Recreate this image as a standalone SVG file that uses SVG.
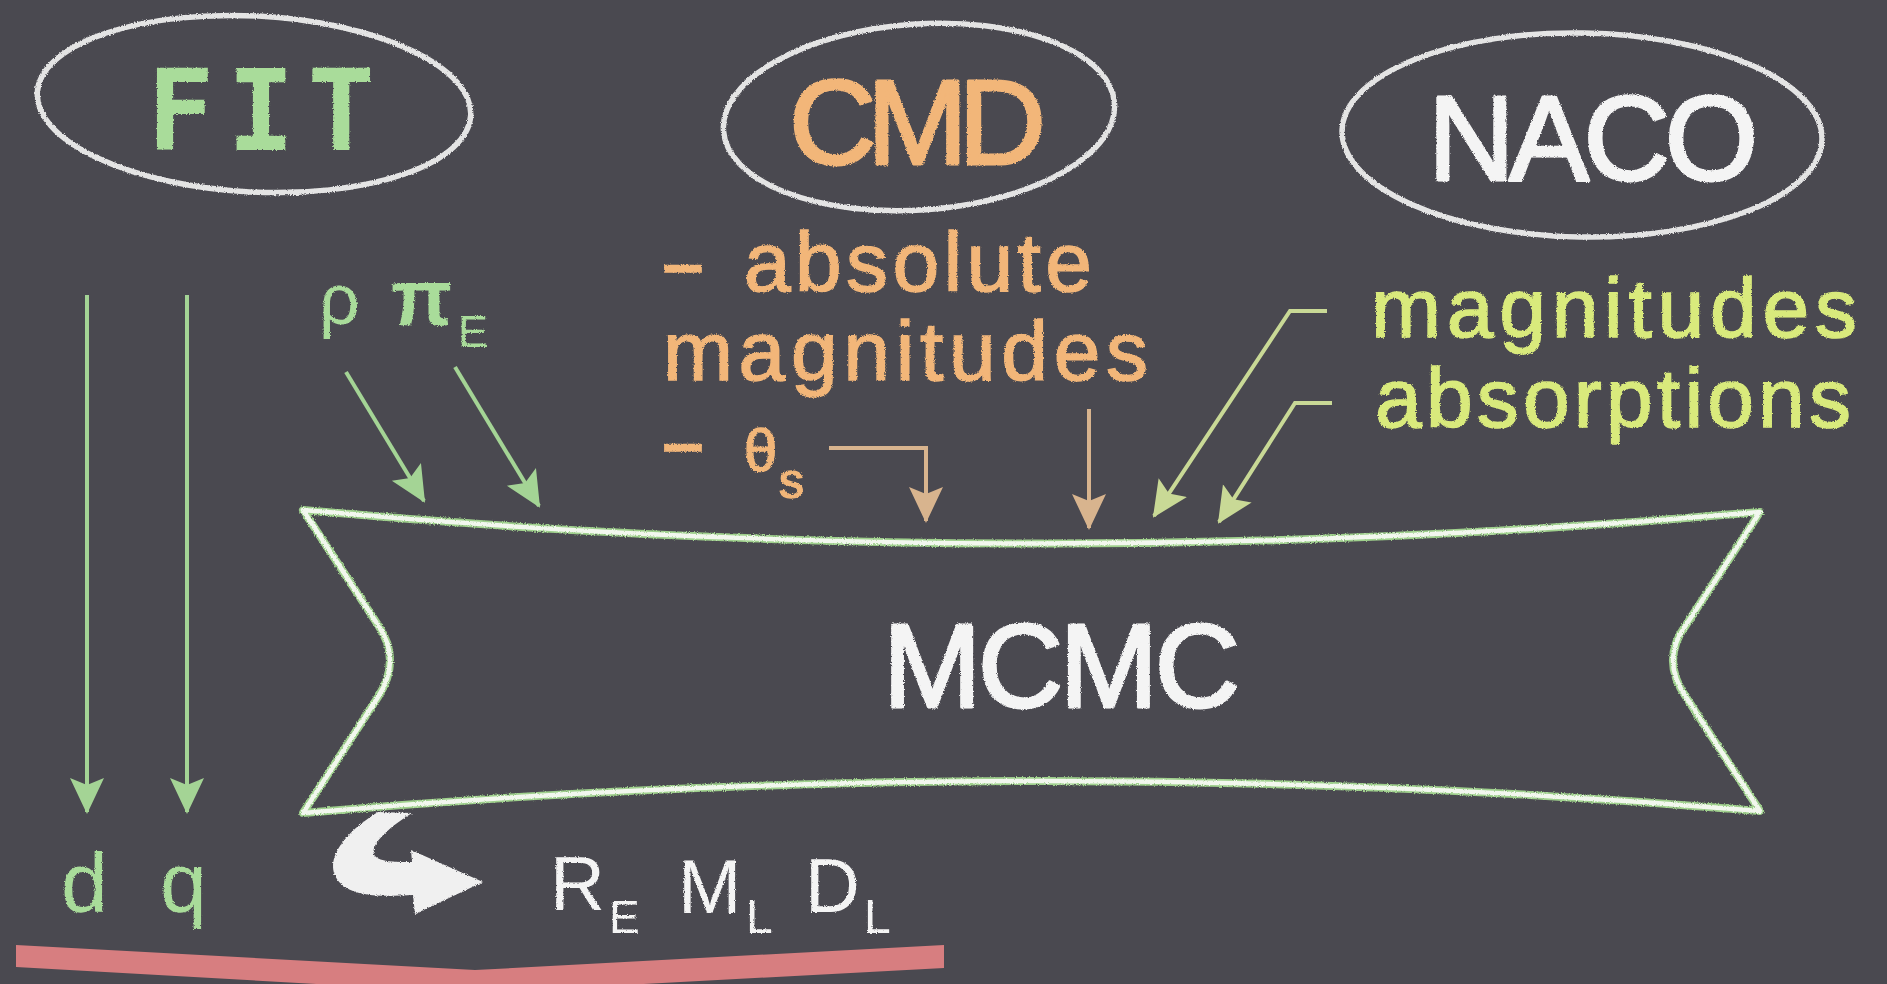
<svg xmlns="http://www.w3.org/2000/svg" width="1887" height="984" viewBox="0 0 1887 984">
<defs>
<style>
.t{font-family:"Liberation Sans","DejaVu Sans",sans-serif;}
.cap{stroke-width:3;stroke-linejoin:round;}
.oval{fill:none;stroke:#e4e4e4;stroke-width:5.5;}
.green{fill:#a9dc9a;}
.orange{fill:#f2b679;stroke:#f2b679;stroke-width:1.5;}
.lime{fill:#d9ea7c;stroke:#d9ea7c;stroke-width:1.5;}
.white{fill:#f4f4f4;}
.ga{fill:none;stroke:#a4d495;stroke-width:4;}
.ta{fill:none;stroke:#d8b48e;stroke-width:4;}
.ya{fill:none;stroke:#c9d996;stroke-width:4;}
</style>
<filter id="chalk" x="-5%" y="-5%" width="110%" height="110%">
<feTurbulence type="fractalNoise" baseFrequency="0.9" numOctaves="2" seed="4" result="n"/>
<feDisplacementMap in="SourceGraphic" in2="n" scale="3" xChannelSelector="R" yChannelSelector="G"/>
</filter>
<marker id="hg" viewBox="0 0 36 36" refX="34" refY="18" markerWidth="36" markerHeight="36" orient="auto" markerUnits="userSpaceOnUse"><path d="M0,1 L36,18 L0,35 L7,18 z" fill="#a4d495"/></marker>
<marker id="ht" viewBox="0 0 36 36" refX="34" refY="18" markerWidth="36" markerHeight="36" orient="auto" markerUnits="userSpaceOnUse"><path d="M0,1 L36,18 L0,35 L7,18 z" fill="#d8b48e"/></marker>
<marker id="hy" viewBox="0 0 36 36" refX="34" refY="18" markerWidth="36" markerHeight="36" orient="auto" markerUnits="userSpaceOnUse"><path d="M0,1 L36,18 L0,35 L7,18 z" fill="#c9d996"/></marker>
</defs>
<rect width="1887" height="984" fill="#4a4950"/>

<g id="fit" filter="url(#chalk)">
<ellipse class="oval" cx="254" cy="104" rx="217" ry="88" transform="rotate(3 254 104)"/>
<text class="green" x="147" y="150" font-family="'DejaVu Sans Mono','Liberation Mono',monospace" font-weight="700" font-size="112" textLength="228" lengthAdjust="spacing">FIT</text>
</g>

<g id="cmd" filter="url(#chalk)">
<ellipse class="oval" cx="919" cy="117" rx="196" ry="93" transform="rotate(-4 919 117)"/>
<text class="t cap" fill="#f2b679" stroke="#f2b679" x="789" y="164" font-size="121" textLength="257" lengthAdjust="spacing">CMD</text>
</g>

<g id="naco" filter="url(#chalk)">
<ellipse class="oval" cx="1582" cy="135" rx="240" ry="102" transform="rotate(1 1582 135)"/>
<text class="t cap white" stroke="#f4f4f4" x="1428" y="180" font-size="120" textLength="330" lengthAdjust="spacing">NACO</text>
</g>

<g id="cmd-notes" filter="url(#chalk)">
<text class="t orange" x="659" y="291" font-size="84"><tspan textLength="48" lengthAdjust="spacingAndGlyphs">-</tspan><tspan x="744" textLength="348" lengthAdjust="spacing">absolute</tspan></text>
<text class="t orange" x="663" y="380" font-size="84" textLength="485" lengthAdjust="spacing">magnitudes</text>
<text class="t orange" x="659" y="470" font-size="84"><tspan textLength="48" lengthAdjust="spacingAndGlyphs">-</tspan><tspan x="744" y="471" font-size="60">θ</tspan><tspan x="779" y="498" font-size="50">s</tspan></text>
</g>

<g id="naco-notes" filter="url(#chalk)">
<text class="t lime" x="1371" y="337" font-size="84" textLength="486" lengthAdjust="spacing">magnitudes</text>
<text class="t lime" x="1375" y="427" font-size="84" textLength="476" lengthAdjust="spacing">absorptions</text>
</g>

<g id="fit-params" filter="url(#chalk)">
<text class="t green" x="319" y="324" font-size="72">ρ<tspan x="391" y="325" font-size="80" font-weight="700">π</tspan><tspan x="458" y="347" font-size="45">E</tspan></text>
</g>

<g id="mcmc" filter="url(#chalk)">
<path d="M303,510 Q1030,576 1760,512 L1686,625 Q1660,660 1686,697 L1760,811 Q1030,750 303,813 L378,697 Q402,660 378,625 Z" fill="none" stroke="#9fd08d" stroke-width="8" stroke-linejoin="round"/>
<path d="M303,510 Q1030,576 1760,512 L1686,625 Q1660,660 1686,697 L1760,811 Q1030,750 303,813 L378,697 Q402,660 378,625 Z" fill="none" stroke="#f2f7ee" stroke-width="4.5" stroke-linejoin="round"/>
<text class="t cap white" stroke="#f4f4f4" x="883" y="707" font-size="118" textLength="357" lengthAdjust="spacing">MCMC</text>
</g>

<g id="fit-outputs" filter="url(#chalk)">
<text class="t green" x="61" y="912" font-size="84">d<tspan x="160">q</tspan></text>
</g>

<g id="mcmc-outputs" filter="url(#chalk)">
<text class="t white" x="550" y="910" font-size="76">R<tspan x="609" y="933" font-size="46">E</tspan><tspan x="678" y="913">M</tspan><tspan x="746" y="933" font-size="48">L</tspan><tspan x="805" y="912">D</tspan><tspan x="864" y="933" font-size="48">L</tspan></text>
</g>

<g id="baseline-bar">
<polygon points="16,945 475,970 944,945 944,968 475,993 16,967" fill="#d77e80"/>
</g>

<g id="connectors">
<line class="ga" x1="87" y1="295" x2="87" y2="812" marker-end="url(#hg)"/>
<line class="ga" x1="187" y1="295" x2="187" y2="812" marker-end="url(#hg)"/>
<line class="ga" x1="346" y1="372" x2="424" y2="501" marker-end="url(#hg)"/>
<line class="ga" x1="455" y1="367" x2="539" y2="506" marker-end="url(#hg)"/>
<polyline class="ta" points="829,448 926,448 926,521" marker-end="url(#ht)"/>
<line class="ta" x1="1089" y1="409" x2="1089" y2="528" marker-end="url(#ht)"/>
<polyline class="ya" points="1327,311 1290,311 1154,516" marker-end="url(#hy)"/>
<polyline class="ya" points="1332,403 1295,403 1219,522" stroke="#d2e38a" marker-end="url(#hy)"/>
<path filter="url(#chalk)" d="M378,812 C340,835 318,868 345,887 C362,898 390,896 413,895 L415,914 L483,882 L411,850 L412,862 C396,862 380,862 375,856 C368,846 388,828 412,813 Z" fill="#f0f0f0"/>
</g>
</svg>
